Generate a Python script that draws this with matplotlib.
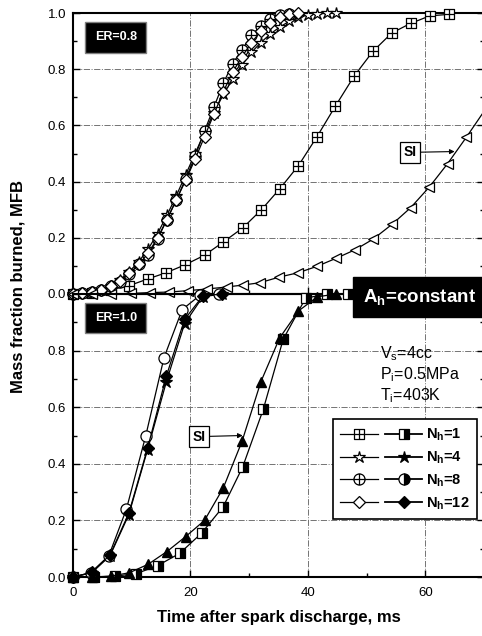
import numpy as np
import matplotlib.pyplot as plt
from matplotlib.path import Path
from matplotlib.lines import Line2D
from matplotlib.legend_handler import HandlerTuple

plt.rcParams['font.family'] = ['Liberation Sans', 'DejaVu Sans']
plt.rcParams['mathtext.fontset'] = 'custom'
plt.rcParams['mathtext.rm'] = 'Liberation Sans'
plt.rcParams['mathtext.bf'] = 'Liberation Sans:bold'
plt.rcParams['mathtext.it'] = 'Liberation Sans:italic'

# ---- ER = 0.8 (top panel), open symbols ----
t08_n1 = [0, 3.2, 6.4, 9.6, 12.8, 15.9, 19.1, 22.4, 25.6, 28.9, 32.1, 35.2, 38.4,
          41.5, 44.7, 47.9, 51.1, 54.3, 57.5, 60.8, 64.0]
mfb08_n1 = [0, 0.005, 0.015, 0.03, 0.054, 0.076, 0.104, 0.138, 0.185, 0.235, 0.30,
            0.374, 0.457, 0.558, 0.669, 0.776, 0.864, 0.929, 0.963, 0.99, 0.995]

t08_fast = [0, 1.6, 3.2, 4.8, 6.4, 8.0, 9.6, 11.2, 12.8, 14.4, 16.0, 17.6, 19.2,
            20.8, 22.4, 24.0, 25.6, 27.2, 28.8, 30.4, 32.0, 33.6, 35.2, 36.8,
            38.4, 40.0, 41.6, 43.2, 44.8]
mfb08_n4 = [0, 0.003, 0.008, 0.016, 0.03, 0.05, 0.08, 0.115, 0.16, 0.215, 0.28,
            0.35, 0.425, 0.50, 0.575, 0.645, 0.71, 0.765, 0.815, 0.86, 0.895,
            0.925, 0.95, 0.97, 0.985, 0.993, 0.997, 0.999, 1.0]
mfb08_n8 = [0, 0.003, 0.008, 0.015, 0.027, 0.044, 0.072, 0.105, 0.14, 0.195, 0.265,
            0.335, 0.41, 0.49, 0.58, 0.665, 0.75, 0.82, 0.87, 0.92, 0.955, 0.98,
            0.992, 0.998]
mfb08_n12 = [0, 0.003, 0.008, 0.015, 0.027, 0.045, 0.073, 0.105, 0.145, 0.2, 0.265,
             0.335, 0.405, 0.48, 0.56, 0.64, 0.72, 0.79, 0.845, 0.895, 0.935,
             0.965, 0.985, 0.995, 1.0]

t08_si = [0, 3.3, 6.5, 9.8, 13.1, 16.4, 19.6, 22.9, 26.2, 29.0, 31.8, 35.1, 38.4,
          41.5, 44.8, 48.0, 51.1, 54.4, 57.5, 60.7, 63.8, 67.0, 70.0]
mfb08_si = [0, 0, 0, 0.002, 0.005, 0.007, 0.012, 0.018, 0.025, 0.032, 0.04, 0.06,
            0.076, 0.098, 0.127, 0.157, 0.195, 0.249, 0.307, 0.381, 0.464, 0.558, 0.65]

# ---- ER = 1.0 (bottom panel), filled symbols ----
t10_n1 = [0, 3.6, 7.2, 10.8, 14.4, 18.2, 21.9, 25.6, 28.9, 32.4, 35.8, 39.6, 43.2, 46.8]
mfb10_n1 = [0, 0, 0.003, 0.012, 0.04, 0.084, 0.155, 0.249, 0.389, 0.592, 0.84,
            0.985, 1.0, 1.0]

t10_fast = [0, 3.2, 6.3, 9.5, 12.7, 15.9, 19.0, 22.1, 25.3]
t10_n8 = [0, 3.0, 6.1, 9.1, 12.4, 15.5, 18.6, 21.6, 24.8]
mfb10_n4 = [0, 0.015, 0.075, 0.22, 0.45, 0.69, 0.895, 0.99, 1.0]
mfb10_n8 = [0, 0.015, 0.075, 0.24, 0.50, 0.775, 0.945, 0.995, 1.0]
mfb10_n12 = [0, 0.016, 0.078, 0.225, 0.455, 0.71, 0.91, 0.993, 1.0]

t10_si = [0, 3.2, 6.4, 9.6, 12.8, 16.0, 19.2, 22.4, 25.6, 28.8, 32.0, 35.2, 38.4, 41.6, 44.8]
mfb10_si = [0, 0, 0.003, 0.015, 0.045, 0.09, 0.143, 0.2, 0.315, 0.48, 0.69, 0.845,
            0.94, 0.99, 1.0]

legend_labels = [r'N$_{\mathbf{h}}$=1', r'N$_{\mathbf{h}}$=4',
                 r'N$_{\mathbf{h}}$=8', r'N$_{\mathbf{h}}$=12']

# square / circle with a cross inside
MOVE, LINE, CLOSE = Path.MOVETO, Path.LINETO, Path.CLOSEPOLY
sq_plus = Path([(-1, -1), (1, -1), (1, 1), (-1, 1), (-1, -1), (-1, 0), (1, 0), (0, -1), (0, 1)],
               [MOVE, LINE, LINE, LINE, CLOSE, MOVE, LINE, MOVE, LINE])
circ_plus = Path.make_compound_path(
    Path.unit_circle(), Path([(-1, 0), (1, 0), (0, -1), (0, 1)], [MOVE, LINE, MOVE, LINE]))

styles_open = [dict(marker=sq_plus, ms=7, mfc='white'),
               dict(marker='*', ms=9, mfc='white'),
               dict(marker=circ_plus, ms=8, mfc='white'),
               dict(marker='D', ms=6, mfc='white')]
styles_fill = [dict(marker='s', ms=7.5, mfc='black', fillstyle='right'),
               dict(marker='*', ms=9, mfc='black'),
               dict(marker='o', ms=8, mfc='black', fillstyle='right'),
               dict(marker='D', ms=6, mfc='black')]

fig = plt.figure(figsize=(4.82, 6.36), dpi=100)
left, width = 73 / 482, 411 / 482
ax1 = fig.add_axes([left, 1 - 294 / 636, width, 281 / 636])
ax2 = fig.add_axes([left, 1 - 577 / 636, width, 283 / 636])

# top panel
for x, y, st in [(t08_n1, mfb08_n1, styles_open[0]),
                 (t08_fast[:len(mfb08_n4)], mfb08_n4, styles_open[1]),
                 (t08_fast[:len(mfb08_n8)], mfb08_n8, styles_open[2]),
                 (t08_fast[:len(mfb08_n12)], mfb08_n12, styles_open[3])]:
    ax1.plot(x, y, color='black', lw=0.9, mec='black', mew=0.9,
             clip_on=False, zorder=3, **st)
ax1.plot(t08_si, mfb08_si, color='black', lw=0.9, marker='<', ms=7, mfc='white',
         mec='black', mew=0.9, markevery=list(range(len(t08_si) - 1)),
         clip_on=False, zorder=3)

# bottom panel
for x, y, st in [(t10_n1, mfb10_n1, styles_fill[0]),
                 (t10_fast, mfb10_n4, styles_fill[1]),
                 (t10_n8, mfb10_n8, dict(marker='o', ms=8, mfc='white')),
                 (t10_fast, mfb10_n12, styles_fill[3])]:
    ax2.plot(x, y, color='black', lw=0.9, mec='black', mew=0.9,
             markerfacecoloralt='white', clip_on=False, zorder=3, **st)
ax2.plot(t10_si, mfb10_si, color='black', lw=0.9, marker='^', ms=7, mfc='black',
         mec='black', clip_on=False, zorder=3)

for ax in (ax1, ax2):
    ax.patch.set_visible(False)
    ax.set_xlim(0, 70)
    ax.set_ylim(0, 1.0)
    ax.set_xticks([0, 20, 40, 60])
    ax.set_xticks([10, 30, 50, 70], minor=True)
    ax.set_yticks([0.1, 0.3, 0.5, 0.7, 0.9], minor=True)
    ax.grid(True, which='major', ls='-.', color='0.45', lw=0.7)
    ax.set_axisbelow(True)
    ax.tick_params(which='both', direction='in', right=True, top=False,
                   labelsize=9.5, width=1)
    ax.tick_params(which='major', length=5)
    ax.tick_params(which='minor', length=3)
    ax.tick_params(axis='y', pad=5)
    for s in ax.spines.values():
        s.set_linewidth(1.5)

ax1.set_yticks([0, 0.2, 0.4, 0.6, 0.8, 1.0])
ax1.set_yticklabels(['0.0', '0.2', '0.4', '0.6', '0.8', '1.0'])
ax1.tick_params(labelbottom=False)
ax2.set_yticks([0, 0.2, 0.4, 0.6, 0.8, 1.0])
ax2.set_yticklabels(['0.0', '0.2', '0.4', '0.6', '0.8', ''])
ax2.tick_params(axis='x', pad=7)
ax2.set_xlabel('Time after spark discharge, ms', fontsize=12, fontweight='bold',
               labelpad=8)
fig.text(0.037, 0.549, 'Mass fraction burned, MFB', rotation=90, fontsize=12,
         fontweight='bold', ha='center', va='center')

# labels
box = dict(boxstyle='square,pad=0.75', fc='black', ec='0.5', lw=1)
ax1.text(7.3, 0.914, 'ER=0.8', color='white', fontsize=9, fontweight='bold',
         ha='center', va='center', bbox=box)
ax2.text(7.3, 0.915, 'ER=1.0', color='white', fontsize=9, fontweight='bold',
         ha='center', va='center', bbox=box)
ax2.text(59.0, 0.99, r'A$_{\mathbf{h}}$=constant', color='white', fontsize=13.5,
         fontweight='bold', ha='center', va='center', clip_on=False, zorder=10,
         bbox=dict(boxstyle='square,pad=0.55', fc='black', ec='black'))

si_box = dict(boxstyle='square,pad=0.25', fc='white', ec='black', lw=0.9)
arrow = dict(arrowstyle='-|>', color='black', lw=0.8, mutation_scale=7, shrinkA=0, shrinkB=0)
ax1.annotate('SI', xy=(65.0, 0.507), xytext=(57.4, 0.504), fontsize=10,
             fontweight='bold', ha='center', va='center', bbox=si_box,
             arrowprops=arrow)
ax2.annotate('SI', xy=(28.9, 0.50), xytext=(21.4, 0.496), fontsize=10,
             fontweight='bold', ha='center', va='center', bbox=si_box,
             arrowprops=arrow)

ax2.text(52.3, 0.79, r'V$_{\rm s}$=4cc', fontsize=11.5, va='center')
ax2.text(52.3, 0.715, r'P$_{\rm i}$=0.5MPa', fontsize=11.5, va='center')
ax2.text(52.3, 0.64, r'T$_{\rm i}$=403K', fontsize=11.5, va='center')

# legend: open (ER=0.8) and filled (ER=1.0) symbol side by side
handles = []
for so, sf in zip(styles_open, styles_fill):
    h_open = Line2D([], [], color='black', lw=0.9, mec='black', mew=0.9, **so)
    h_fill = Line2D([], [], color='black', lw=1.3, mec='black', mew=0.9,
                    markerfacecoloralt='white', **sf)
    handles.append((h_open, h_fill))
leg = ax2.legend(handles, legend_labels, handler_map={tuple: HandlerTuple(ndivide=None, pad=0.5)},
                 loc='upper left', bbox_to_anchor=(0.633, 0.557), numpoints=1,
                 handlelength=5.6, prop={'weight': 'bold', 'size': 10.5},
                 frameon=True, fancybox=False, edgecolor='black', framealpha=1,
                 borderpad=0.5, labelspacing=0.45, handletextpad=0.3, borderaxespad=0)
leg.get_frame().set_linewidth(1.2)

plt.savefig('out.png', dpi=100)
